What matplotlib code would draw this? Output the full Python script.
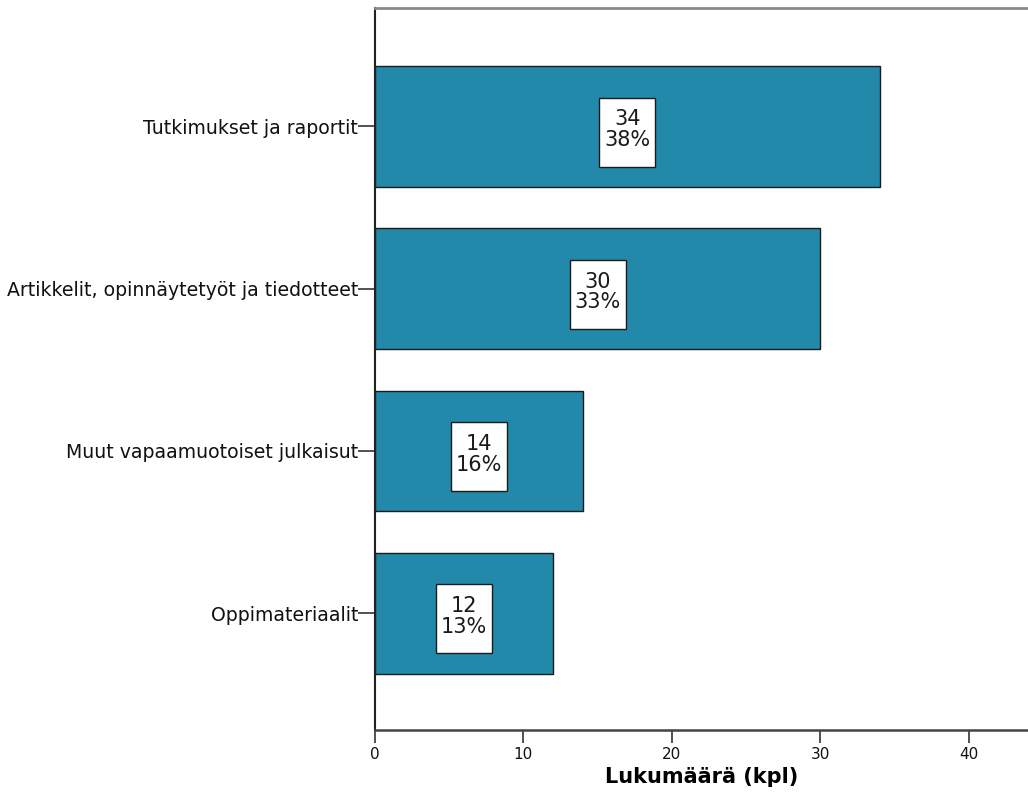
import numpy as np
import matplotlib.pyplot as plt
from matplotlib.patches import Rectangle

plt.rcParams['font.family'] = ['DejaVu Sans']

kategoriat = ['Tutkimukset ja raportit',
              'Artikkelit, opinnäytetyöt ja tiedotteet',
              'Muut vapaamuotoiset julkaisut',
              'Oppimateriaalit']
lukumaara = [34, 30, 14, 12]
prosentit = [38, 33, 16, 13]

fig = plt.figure(figsize=(10.28, 8.11), dpi=100)
ax = fig.add_axes([0.3648, 0.0999, 0.6352, 0.8902])

y = np.arange(len(kategoriat))
ax.barh(y, lukumaara, height=0.745, color='#2389AA', edgecolor='#1a1a1a', linewidth=1.0)

# valkoiset arvolaatikot palkkien keskelle
laatikko_l, laatikko_k = 3.77, 0.425
for yi, n, p in zip(y, lukumaara, prosentit):
    ax.add_patch(Rectangle((n / 2 - laatikko_l / 2, yi + 0.035 - laatikko_k / 2),
                           laatikko_l, laatikko_k, facecolor='white',
                           edgecolor='#1a1a1a', linewidth=1.0, zorder=3))
    ax.text(n / 2, yi + 0.02, f'{n}\n{p}%', ha='center', va='center', fontsize=15,
            color='#1a1a1a', linespacing=1.05, zorder=4)

ax.set_xlim(0, 44)
ax.set_ylim(3.72, -0.73)
ax.set_xticks([0, 10, 20, 30, 40])
ax.set_yticks(y)
ax.set_yticklabels(kategoriat, fontsize=13.6, color='#111111')
ax.tick_params(axis='x', labelsize=11, length=9, width=1.2, color='#333333', pad=3,
               labelcolor='#111111')
ax.tick_params(axis='y', length=12, width=1.2, color='#333333', pad=0)

ax.spines['right'].set_visible(False)
ax.spines['top'].set_color('#8a8a8a')
ax.spines['top'].set_linewidth(2)
ax.spines['left'].set_color('#222222')
ax.spines['left'].set_linewidth(1.5)
ax.spines['bottom'].set_color('#444444')
ax.spines['bottom'].set_linewidth(1.8)

ax.set_xlabel('Lukumäärä (kpl)', fontsize=15, fontweight='bold', labelpad=4)

fig.savefig('out.png', dpi=100)
